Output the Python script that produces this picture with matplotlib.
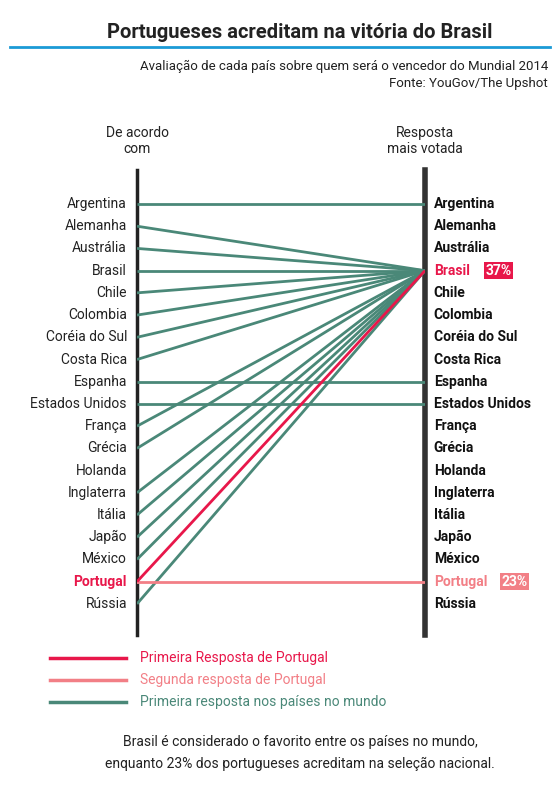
import matplotlib
matplotlib.use("Agg")
import matplotlib.pyplot as plt
from matplotlib.lines import Line2D

plt.rcParams["font.family"] = ["Roboto", "DejaVu Sans"]

# ---- dados ----
paises = ["Argentina", "Alemanha", "Austrália", "Brasil", "Chile", "Colombia",
          "Coréia do Sul", "Costa Rica", "Espanha", "Estados Unidos", "França",
          "Grécia", "Holanda", "Inglaterra", "Itália", "Japão", "México",
          "Portugal", "Rússia"]
# resposta mais votada de cada país (None = sem linha)
resposta = ["Argentina", "Brasil", "Brasil", "Brasil", "Brasil", "Brasil",
            "Brasil", "Brasil", "Espanha", "Estados Unidos", "Brasil",
            "Brasil", None, "Brasil", "Brasil", "Brasil", "Brasil",
            "Brasil", "Brasil"]
pct_brasil = "37%"
pct_portugal = "23%"

VERDE = "#4a8878"
VERMELHO = "#e8174a"
ROSA = "#f27f86"

fig = plt.figure(figsize=(5.6, 7.86), dpi=100)
W, H = 560, 786

# título
fig.text(300 / W, 1 - 33 / H, "Portugueses acreditam na vitória do Brasil",
         ha="center", va="center", fontsize=14.5, fontweight="bold", color="#222222")
fig.add_artist(Line2D([10 / W, 550 / W], [1 - 47 / H] * 2, color="#1b9ad6", lw=2))
fig.text(548 / W, 1 - 66 / H, "Avaliação de cada país sobre quem será o vencedor do Mundial 2014",
         ha="right", va="center", fontsize=9.5, color="#222222")
fig.text(548 / W, 1 - 84 / H, "Fonte: YouGov/The Upshot",
         ha="right", va="center", fontsize=9.5, color="#222222")

ax = fig.add_axes([137 / W, 1 - 635 / H, 288 / W, 465 / H])
ax.set_xlim(0, 1)
ax.set_ylim(19.4, -1.53)
ax.axis("off")
ax.plot([0, 0], [19.4, -1.53], color="#222222", lw=2.5, clip_on=False)
ax.plot([1, 1], [19.4, -1.53], color="#333333", lw=4, clip_on=False)

ax.text(0, -2.85, "De acordo\ncom", ha="center", va="center", fontsize=10, color="#222222")
ax.text(1, -2.85, "Resposta\nmais votada", ha="center", va="center", fontsize=10, color="#222222")

for i, (p, r) in enumerate(zip(paises, resposta)):
    if r is not None:
        j = paises.index(r)
        c = VERMELHO if p == "Portugal" else VERDE
        ax.plot([0, 1], [i, j], color=c, lw=2, zorder=3 if p == "Portugal" else 2,
                solid_capstyle="butt")
    ax.text(-0.035, i, p, ha="right", va="center", fontsize=10,
            color=VERMELHO if p == "Portugal" else "#222222",
            fontweight="bold" if p == "Portugal" else "normal")
    rc = "#111111"
    if p == "Brasil":
        rc = VERMELHO
    elif p == "Portugal":
        rc = ROSA
    t = ax.text(1.03, i, p, ha="left", va="center", fontsize=10,
                fontweight="bold", color=rc)

# segunda resposta de Portugal
ip = paises.index("Portugal")
ax.plot([0, 1], [ip, ip], color=ROSA, lw=2, zorder=2)

ib = paises.index("Brasil")
ax.text(1.21, ib, pct_brasil, ha="left", va="center", fontsize=10, fontweight="bold",
        color="white", bbox=dict(boxstyle="square,pad=0.12", fc=VERMELHO, ec="none"))
ax.text(1.265, ip, pct_portugal, ha="left", va="center", fontsize=10, fontweight="bold",
        color="white", bbox=dict(boxstyle="square,pad=0.12", fc=ROSA, ec="none"))

# legenda
leg = [(VERMELHO, "Primeira Resposta de Portugal"),
       (ROSA, "Segunda resposta de Portugal"),
       (VERDE, "Primeira resposta nos países no mundo")]
for k, (c, lab) in enumerate(leg):
    y = 1 - (658 + 22 * k) / H
    fig.add_artist(Line2D([50 / W, 126 / W], [y, y], color=c, lw=2.5))
    fig.text(140 / W, y, lab, ha="left", va="center", fontsize=10, color=c)

fig.text(300 / W, 1 - 742 / H, "Brasil é considerado o favorito entre os países no mundo,",
         ha="center", va="center", fontsize=10, color="#222222")
fig.text(300 / W, 1 - 764 / H, "enquanto 23% dos portugueses acreditam na seleção nacional.",
         ha="center", va="center", fontsize=10, color="#222222")

fig.savefig("out.png", dpi=100)
